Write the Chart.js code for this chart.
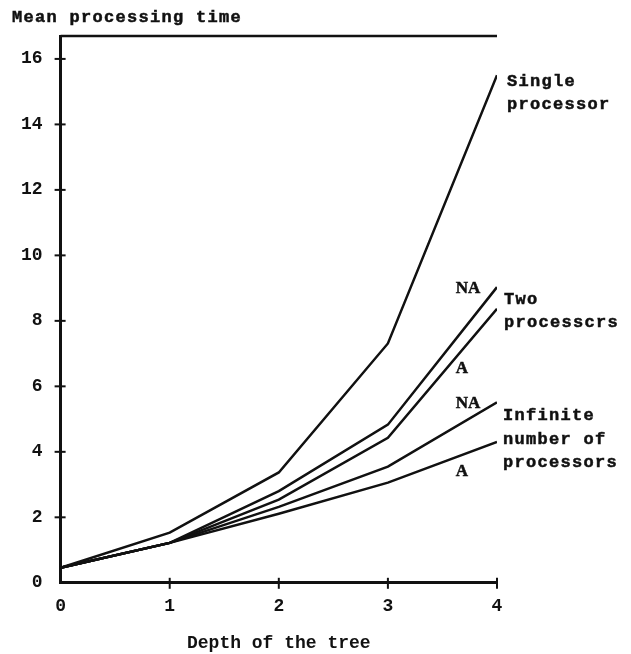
<!DOCTYPE html>
<html>
<head>
<meta charset="utf-8">
<script src="https://cdn.jsdelivr.net/npm/chart.js@4.4.1/dist/chart.umd.min.js"></script>
<style>
  html, body { margin: 0; padding: 0; background: #fff; }
  #wrap { width: 631px; height: 654px; }
</style>
</head>
<body>
<div id="wrap"><canvas id="chart"></canvas></div>
<script>
// depth of the tree (x) and mean processing time for each configuration
const depth = [0, 1, 2, 3, 4];
const singleProc = [0.46, 1.53, 3.37, 7.31, 15.5];
const twoNA = [0.46, 1.22, 2.8, 4.83, 9.03];
const twoA = [0.46, 1.22, 2.54, 4.43, 8.37];
const infNA = [0.46, 1.22, 2.32, 3.55, 5.51];
const infA = [0.46, 1.22, 2.11, 3.06, 4.3];
const yTicks = [0, 2, 4, 6, 8, 10, 12, 14, 16];
const xTicks = [0, 1, 2, 3, 4];

const yTitle = 'Mean processing time';
const xTitle = 'Depth of the tree';

const INK = '#111';
const MONO = "'Liberation Mono', 'DejaVu Sans Mono', monospace";
const SERIF = "'Liberation Serif', 'DejaVu Serif', serif";

const toPoints = (vals) => vals.map((v, i) => ({ x: depth[i], y: v }));

const lineSet = (label, vals) => ({
  label,
  data: toPoints(vals),
  borderColor: INK,
  borderWidth: 2.5,
  pointRadius: 0,
  tension: 0,
  fill: false
});

// frame line, crossing ticks and the text beside the line ends
const annotate = {
  id: 'annotate',
  afterDraw(chart) {
    const { ctx, chartArea } = chart;
    const xs = chart.scales.x, ys = chart.scales.y;
    ctx.save();
    ctx.strokeStyle = INK;
    ctx.fillStyle = INK;

    ctx.lineWidth = 2.5;
    ctx.beginPath();
    ctx.moveTo(chartArea.left, chartArea.top);
    ctx.lineTo(chartArea.right, chartArea.top);
    ctx.stroke();

    ctx.lineWidth = 2;
    ys.ticks.forEach(t => {
      if (t.value === 0) return;
      const py = ys.getPixelForValue(t.value);
      ctx.beginPath();
      ctx.moveTo(chartArea.left - 6, py);
      ctx.lineTo(chartArea.left + 5, py);
      ctx.stroke();
    });
    xs.ticks.forEach(t => {
      if (t.value === 0) return;
      const px = xs.getPixelForValue(t.value);
      ctx.beginPath();
      ctx.moveTo(px, chartArea.bottom - 5);
      ctx.lineTo(px, chartArea.bottom + 6);
      ctx.stroke();
    });

    // slightly heavier text, like the typewriter original
    const label = (txt, x, y) => {
      ctx.fillText(txt, x, y);
      ctx.strokeText(txt, x, y);
    };
    ctx.lineWidth = 0.5;

    if ('letterSpacing' in ctx) ctx.letterSpacing = '1.3px';
    ctx.font = 'bold 17px ' + MONO;
    ctx.textBaseline = 'middle';
    ctx.textAlign = 'left';

    label(yTitle, 12, 18);

    const end = (vals) => ({
      x: xs.getPixelForValue(depth[depth.length - 1]),
      y: ys.getPixelForValue(vals[vals.length - 1])
    });
    const s = end(singleProc), tn = end(twoNA), ta = end(twoA), inn = end(infNA), ia = end(infA);

    label('Single', s.x + 10, s.y + 6);
    label('processor', s.x + 10, s.y + 29);
    label('Two', tn.x + 7, tn.y + 13);
    label('processcrs', tn.x + 7, tn.y + 36);
    label('Infinite', inn.x + 6, inn.y + 13);
    label('number of', inn.x + 6, inn.y + 37);
    label('processors', inn.x + 6, inn.y + 60);

    if ('letterSpacing' in ctx) ctx.letterSpacing = '0px';
    ctx.font = 'bold 17px ' + SERIF;
    ctx.textAlign = 'center';
    label('NA', tn.x - 29, tn.y + 1);
    label('A', ta.x - 35, ta.y + 60);
    label('NA', inn.x - 29, inn.y + 1);
    label('A', ia.x - 35, ia.y + 30);
    ctx.restore();
  }
};

new Chart(document.getElementById('chart'), {
  type: 'line',
  data: {
    datasets: [
      lineSet('Single processor', singleProc),
      lineSet('Two processors NA', twoNA),
      lineSet('Two processors A', twoA),
      lineSet('Infinite number of processors NA', infNA),
      lineSet('Infinite number of processors A', infA)
    ]
  },
  options: {
    responsive: true,
    maintainAspectRatio: false,
    animation: false,
    layout: { padding: { left: 3, right: 134, top: 36, bottom: 0 } },
    plugins: {
      legend: { display: false },
      tooltip: { enabled: false }
    },
    scales: {
      x: {
        type: 'linear',
        min: 0,
        max: 4,
        afterBuildTicks: (axis) => { axis.ticks = xTicks.map(v => ({ value: v })); },
        grid: { display: false, drawTicks: false },
        border: { display: true, color: INK, width: 3 },
        ticks: { color: INK, padding: 13, font: { family: MONO, size: 18, weight: 'bold' } },
        title: {
          display: true,
          text: xTitle,
          color: INK,
          padding: { top: 2, bottom: 0 },
          font: { family: MONO, size: 18, weight: 'bold' }
        }
      },
      y: {
        min: 0,
        max: 16.7,
        afterBuildTicks: (axis) => { axis.ticks = yTicks.map(v => ({ value: v })); },
        grid: { display: false, drawTicks: false },
        border: { display: true, color: INK, width: 3 },
        ticks: { color: INK, padding: 18, font: { family: MONO, size: 18, weight: 'bold' } }
      }
    }
  },
  plugins: [annotate]
});
</script>
</body>
</html>
